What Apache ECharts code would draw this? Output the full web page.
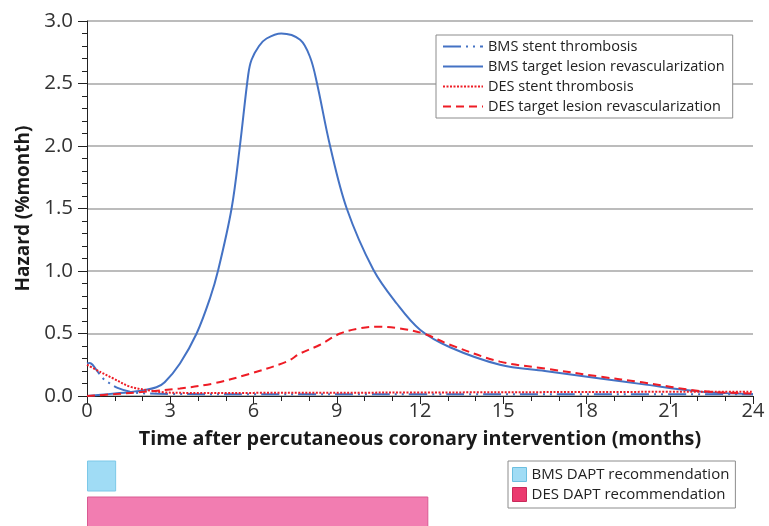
<!DOCTYPE html>
<html>
<head>
<meta charset="utf-8">
<script src="https://cdn.jsdelivr.net/npm/echarts@6/dist/echarts.min.js"></script>
<style>
  html, body { margin: 0; padding: 0; background: #fff; overflow: hidden; }
  #chart { width: 769px; height: 540px; }
</style>
</head>
<body>
<div id="chart"></div>
<script>
// Hazard curves after PCI (months vs %/month)
var bmsStTime  = [0, 0.1, 0.2, 0.4, 0.58, 0.76, 1.1, 1.55, 2, 3, 6, 12, 18, 24];
var bmsStHaz   = [0.26, 0.265, 0.25, 0.19, 0.14, 0.11, 0.065, 0.035, 0.022, 0.016, 0.014, 0.014, 0.014, 0.014];

var bmsTlrTime = [0, 0.5, 1, 1.5, 2, 2.5, 2.8, 3.35, 3.95, 4.43, 4.73, 5.21, 5.51, 5.81, 5.93, 6.2, 6.47, 7.0, 7.68, 8.04, 8.28, 8.76, 9.36, 10.32, 11.16, 12.0, 13.08, 14.88, 16.5, 18.49, 20, 22.1, 24];
var bmsTlrHaz  = [0, 0.01, 0.02, 0.03, 0.045, 0.07, 0.11, 0.26, 0.5, 0.78, 1.01, 1.5, 2.0, 2.57, 2.69, 2.8, 2.86, 2.9, 2.85, 2.71, 2.51, 2.0, 1.5, 1.01, 0.74, 0.53, 0.39, 0.25, 0.2, 0.14, 0.095, 0.035, 0.015];

var desStTime  = [0, 0.5, 0.95, 1.55, 2.15, 2.75, 3.5, 6, 12, 18, 24];
var desStHaz   = [0.25, 0.19, 0.14, 0.075, 0.048, 0.03, 0.025, 0.025, 0.028, 0.032, 0.035];

var desTlrTime = [0, 1, 2.15, 3.35, 4.55, 5.75, 7.2, 7.68, 8.4, 9.12, 9.8, 10.44, 11.28, 12.12, 13.08, 14.88, 16.5, 18.49, 20, 22.1, 24];
var desTlrHaz  = [0, 0.015, 0.035, 0.06, 0.1, 0.17, 0.275, 0.34, 0.41, 0.5, 0.54, 0.555, 0.54, 0.5, 0.41, 0.275, 0.22, 0.155, 0.11, 0.04, 0.02];

var seriesNames = [
  'BMS stent thrombosis',
  'BMS target lesion revascularization',
  'DES stent thrombosis',
  'DES target lesion revascularization'
];

// Recommended dual antiplatelet therapy duration (months)
var daptRows   = ['BMS', 'DES'];
var daptNames  = ['BMS DAPT recommendation', 'DES DAPT recommendation'];
var daptMonths = [1.05, 12.3];

var xTicks = [0, 3, 6, 9, 12, 15, 18, 21, 24];

function pairs(xs, ys) {
  return xs.map(function (x, i) { return [x, ys[i]]; });
}

var FONT = '"Open Sans", "Noto Sans", sans-serif';
var BLUE = '#4472c4';
var RED = '#ee1c25';

function curve(name, xs, ys, color, type) {
  return {
    name: name,
    type: 'line',
    xAxisIndex: 0,
    yAxisIndex: 0,
    data: pairs(xs, ys),
    smooth: 0.35,
    symbol: 'none',
    showSymbol: false,
    lineStyle: { color: color, width: 2, type: type },
    itemStyle: { color: color },
    z: 3
  };
}

var chart = echarts.init(document.getElementById('chart'), null, { renderer: 'canvas' });

chart.setOption({
  animation: false,
  backgroundColor: '#fff',
  textStyle: { fontFamily: FONT },
  grid: [
    { left: 87, right: 16, top: 21, height: 375 },
    { left: 87, right: 16, top: 458, height: 72 }
  ],
  xAxis: [
    {
      type: 'value', gridIndex: 0,
      min: 0, max: 24, interval: 3,
      name: 'Time after percutaneous coronary intervention (months)',
      nameLocation: 'middle', nameGap: 33,
      nameTextStyle: { fontFamily: FONT, fontSize: 19.8, fontWeight: 'bold', color: '#1a1a1a' },
      axisLine: { show: true, lineStyle: { color: '#222', width: 1 } },
      axisTick: { show: true, length: 8, lineStyle: { color: '#222' } },
      minorTick: { show: true, splitNumber: 3, length: 5, lineStyle: { color: '#222' } },
      splitLine: { show: false },
      axisLabel: {
        fontFamily: FONT, fontSize: 20, color: '#333', margin: 5,
        formatter: function (v) { return xTicks.indexOf(v) >= 0 ? String(v) : ''; }
      }
    },
    { type: 'value', gridIndex: 1, min: 0, max: 24, show: false }
  ],
  yAxis: [
    {
      type: 'value', gridIndex: 0,
      min: 0, max: 3, interval: 0.5,
      name: 'Hazard (%month)',
      nameLocation: 'middle', nameGap: 54,
      nameTextStyle: { fontFamily: FONT, fontSize: 19, fontWeight: 'bold', color: '#1a1a1a' },
      axisLine: { show: true, lineStyle: { color: '#222', width: 1 } },
      axisTick: { show: true, length: 9, lineStyle: { color: '#222' } },
      minorTick: { show: true, splitNumber: 5, length: 5, lineStyle: { color: '#222' } },
      splitLine: { show: true, lineStyle: { color: '#a6a6a6', width: 1.5 } },
      axisLabel: {
        fontFamily: FONT, fontSize: 20.5, color: '#333', margin: 14,
        formatter: function (v) { return v.toFixed(1); }
      }
    },
    { type: 'category', gridIndex: 1, data: daptRows, inverse: true, show: false }
  ],
  legend: [
    {
      data: seriesNames,
      orient: 'vertical',
      left: 436, top: 35,
      padding: [4, 8, 4, 6],
      itemWidth: 40, itemHeight: 14, itemGap: 5,
      backgroundColor: '#fff',
      borderColor: '#8c8c8c', borderWidth: 1,
      selectedMode: false,
      itemStyle: { opacity: 0 },
      textStyle: { fontFamily: FONT, fontSize: 14.5, color: '#222' }
    },
    {
      data: [
        { name: daptNames[0], itemStyle: { color: '#a0dcf5', borderColor: '#6cbfe0', borderWidth: 1 } },
        { name: daptNames[1], itemStyle: { color: '#eb3a6f', borderColor: '#c92a5a', borderWidth: 1 } }
      ],
      orient: 'vertical',
      left: 508, top: 461,
      padding: [6, 6, 6, 4],
      itemWidth: 14, itemHeight: 14, itemGap: 5,
      backgroundColor: '#fff',
      borderColor: '#8c8c8c', borderWidth: 1,
      selectedMode: false,
      icon: 'rect',
      textStyle: { fontFamily: FONT, fontSize: 15, color: '#222' }
    }
  ],
  series: [
    curve(seriesNames[0], bmsStTime, bmsStHaz, BLUE, [18, 5, 2, 5, 2, 5]),
    curve(seriesNames[1], bmsTlrTime, bmsTlrHaz, BLUE, 'solid'),
    curve(seriesNames[2], desStTime, desStHaz, RED, [2, 1.5]),
    curve(seriesNames[3], desTlrTime, desTlrHaz, RED, [8, 5]),
    {
      name: daptNames[0], type: 'bar',
      xAxisIndex: 1, yAxisIndex: 1,
      data: [daptMonths[0], '-'],
      barWidth: 31, barGap: '-100%',
      itemStyle: { color: '#a0dcf5', borderColor: '#7cc8e8', borderWidth: 1 }
    },
    {
      name: daptNames[1], type: 'bar',
      xAxisIndex: 1, yAxisIndex: 1,
      data: ['-', daptMonths[1]],
      barWidth: 31, barGap: '-100%',
      itemStyle: { color: '#f27db1', borderColor: '#d95a92', borderWidth: 1 }
    }
  ]
});
</script>
</body>
</html>
